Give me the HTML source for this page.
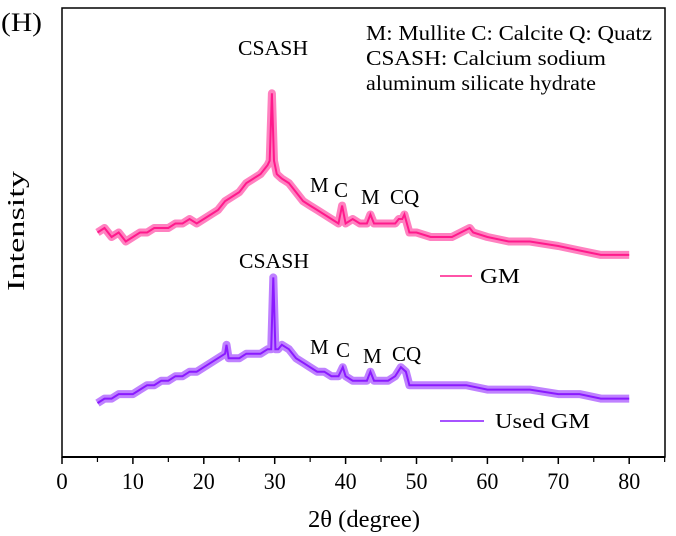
<!DOCTYPE html>
<html><head><meta charset="utf-8"><style>
body{margin:0;background:#fff;}
svg{display:block;font-family:"Liberation Serif",serif;}
</style></head><body>
<svg id="chart" width="676" height="536">
<rect x="62" y="8" width="603" height="449" fill="none" stroke="#000" stroke-width="1.5"/>
<g id="ticks"></g>
<g id="series"></g>
<text x="1" y="31" font-size="26" textLength="41" lengthAdjust="spacingAndGlyphs">(H)</text>
<text x="366" y="40" font-size="21" textLength="286" lengthAdjust="spacingAndGlyphs">M: Mullite  C: Calcite  Q: Quatz</text>
<text x="366" y="65" font-size="21" textLength="240" lengthAdjust="spacingAndGlyphs">CSASH: Calcium sodium</text>
<text x="366" y="90" font-size="21" textLength="230" lengthAdjust="spacingAndGlyphs">aluminum silicate hydrate</text>
<text transform="translate(24,231) rotate(-90)" text-anchor="middle" font-size="24" textLength="120" lengthAdjust="spacingAndGlyphs">Intensity</text>
<text x="364" y="527" text-anchor="middle" font-size="24" textLength="112" lengthAdjust="spacingAndGlyphs">2θ (degree)</text>
<g font-size="21">
<text x="238" y="55" textLength="70" lengthAdjust="spacingAndGlyphs">CSASH</text>
<text x="310" y="192">M</text>
<text x="334" y="197">C</text>
<text x="361" y="204">M</text>
<text x="390" y="204">CQ</text>
<text x="239" y="268" textLength="70" lengthAdjust="spacingAndGlyphs">CSASH</text>
<text x="310" y="354">M</text>
<text x="336" y="357">C</text>
<text x="363" y="363">M</text>
<text x="392" y="361">CQ</text>
</g>
<line x1="440" y1="276" x2="472" y2="276" stroke="#ff1a8c" stroke-width="1.5"/>
<text x="480" y="283" font-size="21" textLength="40" lengthAdjust="spacingAndGlyphs">GM</text>
<line x1="440" y1="421" x2="484" y2="421" stroke="#8a1aff" stroke-width="1.5"/>
<text x="495" y="428" font-size="21" textLength="95" lengthAdjust="spacingAndGlyphs">Used GM</text>
</svg>
<script>
const xTicks=[0,10,20,30,40,50,60,70,80];
const xMinor=[5,15,25,35,45,55,65,75,85];
const gmX=[5,6,7,8,9,10,11,12,13,14,15,16,17,18,19,20,21,22,23,24,25,26,27,28,29,29.3,29.6,29.9,30.3,31,32,33,34,35,36,37,38,39,39.5,40,41,42,43,43.5,44,45,46,47,47.5,48,48.3,49,50,52,55,57.5,58,60,63,66,70,73,76,80];
const gmY=[50,51,49,50,48,49,50,50,51,51,51,52,52,53,52,53,54,55,57,58,59,61,62,63,65,66,81,66,63,62,61,59,57,56,55,54,53,52,56,52,53,52,52,54,52,52,52,52,53,53,54,50,50,49,49,51,50,49,48,48,47,46,45,45];
const usedX=[5,6,7,8,9,10,11,12,13,14,15,16,17,18,19,20,21,22,23,23.2,23.5,25,26,27,28,29,29.5,29.8,30.1,30.5,31,32,33,34,35,36,37,38,39,39.6,40,41,42,43,43.5,44,45,46,47,47.8,48.5,49,50,52,55,57,60,63,66,70,73,76,80];
const usedY=[12,13,13,14,14,14,15,16,16,17,17,18,18,19,19,20,21,22,23,25,22,22,23,23,23,24,24,40,24,24,25,24,22,21,20,19,19,18,18,20,18,17,17,17,19,17,17,17,18,20,19,16,16,16,16,16,15,15,15,14,14,13,13];
const sx=v=>62+v*7.09;
const sy=v=>457-v*4.49;
const NS='http://www.w3.org/2000/svg';
const tg=document.getElementById('ticks');
const ax=document.createElementNS(NS,'line');
ax.setAttribute('x1',62);ax.setAttribute('x2',665);ax.setAttribute('y1',457);ax.setAttribute('y2',457);
ax.setAttribute('stroke','#000');ax.setAttribute('stroke-width','2');


tg.appendChild(ax);
xTicks.forEach(t=>{
  const l=document.createElementNS(NS,'line');
  l.setAttribute('x1',sx(t));l.setAttribute('x2',sx(t));l.setAttribute('y1',457);l.setAttribute('y2',464);
  l.setAttribute('stroke','#000');l.setAttribute('stroke-width','1.5');
  
  
  tg.appendChild(l);
  const tx=document.createElementNS(NS,'text');
  tx.setAttribute('x',sx(t));tx.setAttribute('y',489);tx.setAttribute('text-anchor','middle');tx.setAttribute('font-size','23');
  if(String(t).length>1){tx.setAttribute('textLength','22');tx.setAttribute('lengthAdjust','spacingAndGlyphs');}
  tx.textContent=t;
  
  
  tg.appendChild(tx);
});
xMinor.forEach(t=>{
  const l=document.createElementNS(NS,'line');
  l.setAttribute('x1',sx(t));l.setAttribute('x2',sx(t));l.setAttribute('y1',457);l.setAttribute('y2',462);
  l.setAttribute('stroke','#000');l.setAttribute('stroke-width','1.2');
  
  
  tg.appendChild(l);
});
const sg=document.getElementById('series');
function draw(xs,ys,color,name){
  const pts=xs.map((x,i)=>sx(x).toFixed(1)+','+sy(ys[i]).toFixed(1)).join(' ');
  const band=document.createElementNS(NS,'polyline');
  band.setAttribute('points',pts);band.setAttribute('fill','none');band.setAttribute('stroke',color);
  band.setAttribute('stroke-width','8');band.setAttribute('stroke-opacity','0.55');band.setAttribute('stroke-linejoin','round');
  
  
  sg.appendChild(band);
  const p=document.createElementNS(NS,'polyline');
  p.setAttribute('points',pts);p.setAttribute('fill','none');p.setAttribute('stroke',color);p.setAttribute('stroke-width','2');
  
  
  sg.appendChild(p);
}
draw(gmX,gmY,'#ff1a8c','gm');
draw(usedX,usedY,'#8a1aff','used-gm');
</script>
</body></html>
